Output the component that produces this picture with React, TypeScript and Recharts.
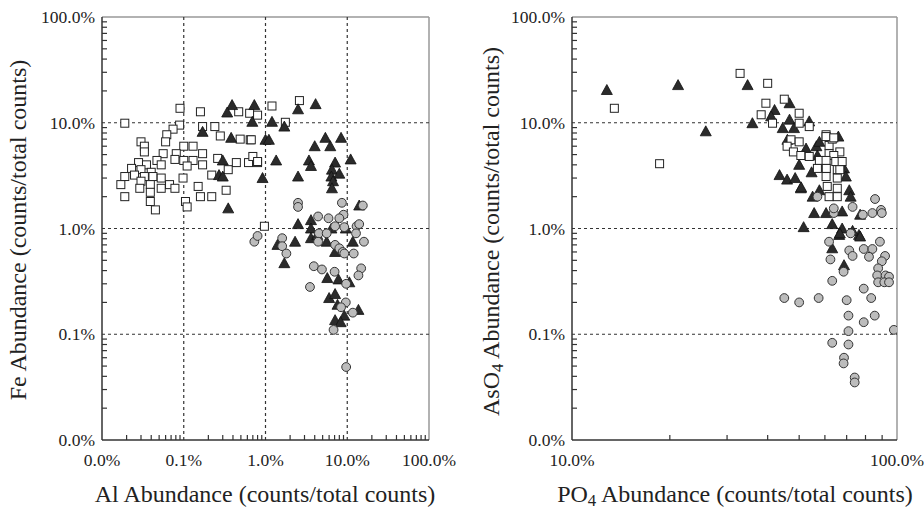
import { ReferenceLine, Scatter, ScatterChart, XAxis, YAxis } from 'recharts'

const FONT = '"Liberation Serif", "DejaVu Serif", serif'

// all values in percent (counts / total counts)
const leftSquares: [number, number][] = [
  [0.09, 13.7], [0.16, 12.7], [0.019, 9.9], [0.089, 9.5], [0.074, 8.7], [0.062, 7.7], [0.06, 6.6],
  [0.03, 6.6], [0.033, 6.0], [0.033, 5.3], [0.056, 5.1], [0.1, 6.0], [0.13, 6.0], [0.17, 5.1],
  [0.081, 5.1], [0.078, 4.5], [0.1, 4.4], [0.13, 4.4], [0.17, 4.0], [0.11, 3.9], [0.047, 4.4],
  [0.053, 4.0], [0.028, 4.2], [0.035, 4.0], [0.023, 3.7], [0.03, 3.6], [0.04, 3.4], [0.019, 3.1],
  [0.025, 3.2], [0.033, 3.1], [0.042, 3.1], [0.053, 3.0], [0.03, 2.8], [0.017, 2.6], [0.039, 2.6],
  [0.053, 2.4], [0.067, 2.6], [0.078, 2.4], [0.098, 3.0], [0.019, 2.0], [0.029, 2.4], [0.039, 2.2],
  [0.039, 1.8], [0.045, 1.5], [0.105, 1.8], [0.11, 1.6], [0.15, 2.5], [0.16, 2.0], [0.22, 2.0],
  [0.33, 2.3], [0.22, 3.2], [0.26, 4.6], [0.35, 3.6], [0.44, 4.2], [0.62, 4.2], [0.8, 4.2],
  [0.17, 9.2], [0.24, 9.2], [0.28, 7.5], [0.49, 7.0], [0.65, 6.9], [0.47, 12.7], [0.64, 12.3],
  [1.2, 14.4], [2.6, 16.2], [0.8, 11.8], [1.75, 10.1], [0.67, 6.9], [0.7, 4.8], [0.8, 4.3], [0.97, 1.05],
]

const leftTriangles: [number, number][] = [
  [0.39, 14.7], [0.34, 12.5], [0.73, 14.7], [0.69, 10.2], [0.17, 8.2], [0.38, 7.2], [0.3, 4.4],
  [0.27, 3.2], [0.3, 3.1], [0.35, 1.55], [0.92, 3.0], [1.0, 6.9], [1.2, 10.2], [1.7, 9.2],
  [2.5, 13.4], [4.1, 15], [1.1, 6.9], [1.35, 4.4], [2.5, 3.1], [4.0, 6.0], [5.4, 7.2], [6.2, 6.0],
  [8.4, 7.2], [3.4, 4.4], [3.6, 3.9], [11, 4.5], [7.1, 4.2], [6.5, 3.6], [8, 3.3], [6.4, 3.1],
  [6.7, 2.8], [6.5, 2.4], [2.5, 1.1], [3.6, 1.2], [14, 1.65], [3.6, 1.0], [3.6, 0.81], [4.3, 0.87],
  [5.6, 0.75], [7.1, 0.6], [11.7, 0.75], [1.4, 0.7], [2.3, 0.75], [1.7, 0.47], [5.7, 0.34],
  [7.8, 0.33], [10.6, 0.31], [6.0, 0.22], [7.1, 0.24], [7.6, 0.19], [9.2, 0.15], [13.7, 0.17],
  [7.1, 0.136], [8.3, 0.13], [6.4, 1.0], [9.6, 1.0],
]

const leftCircles: [number, number][] = [
  [2.5, 1.75], [2.5, 1.6], [8.6, 1.75], [15.5, 1.65], [9.0, 1.35], [4.4, 1.3], [5.9, 1.25], [8, 1.25],
  [7.1, 1.05], [13, 1.05], [0.73, 0.75], [0.8, 0.85], [1.6, 0.81], [1.6, 0.68], [1.8, 0.58],
  [4.5, 0.9], [4.4, 0.75], [5.6, 0.9], [7.1, 0.7], [8, 0.65], [8.8, 0.6], [9.2, 0.58], [12, 0.58],
  [12.8, 0.9], [16, 0.75], [14, 1.1], [3.9, 0.44], [4.9, 0.41], [7.0, 0.39], [14.8, 0.42],
  [13.7, 0.36], [3.5, 0.28], [9.7, 0.3], [9.6, 0.2], [8.4, 0.18], [11.7, 0.16], [6.8, 0.11],
  [9.7, 0.049], [9.2, 1.03],
]

const rightSquares: [number, number][] = [
  [13.5, 13.7], [18.6, 4.1], [32.9, 29.3], [40, 23.6], [39.5, 15.3], [45, 16.7], [50, 12.3],
  [38.2, 11.9], [41.4, 9.9], [50, 9.9], [53.7, 9.2], [47.2, 6.9], [50, 6.6], [45.9, 6.0], [48, 5.3],
  [50.6, 4.9], [53.7, 4.8], [57.7, 4.4], [60.5, 7.7], [61.8, 6.1], [63.2, 7.0], [66.7, 5.3],
  [61.8, 5.1], [63.9, 4.9], [60.5, 4.4], [64.8, 4.3], [67.8, 4.3], [56.9, 3.7], [60.6, 3.7],
  [65.5, 3.6], [60.5, 3.1], [65.5, 3.0], [65.5, 2.4], [61.8, 2.0], [65.5, 2.0], [60.5, 7.4],
  [63.9, 7.2], [61, 2.5], [66.7, 3.6],
]

const rightTriangles: [number, number][] = [
  [12.8, 20.4], [21.2, 22.7], [25.8, 8.3], [34.7, 22.7], [42, 13.2], [46.7, 15.3], [35.9, 9.9],
  [41, 11.5], [44.5, 8.9], [46.7, 10.7], [48.2, 8.9], [53.7, 10.3], [46, 6.9], [52.5, 5.7],
  [56.5, 6.0], [57.7, 6.6], [66, 7.4], [50, 4.0], [54.6, 3.4], [56.9, 4.9], [43.5, 3.2], [45.9, 2.9],
  [48.6, 3.0], [50.6, 2.4], [55, 2.0], [57.7, 2.3], [68.7, 3.7], [69.6, 3.1], [71.3, 2.3], [72, 2.0],
  [55.6, 1.4], [60.5, 1.4], [63.2, 1.1], [67.8, 1.45], [51.6, 1.03], [67.8, 1.0], [66.4, 0.87],
  [76.4, 0.87], [73, 0.95], [50.7, 2.45], [77, 1.35], [66.7, 0.9], [77, 0.84], [63.2, 0.65], [68.7, 0.45],
]

const rightCircles: [number, number][] = [
  [85.6, 1.9], [89.3, 1.5], [84, 1.4], [89.8, 1.4], [78.5, 1.35], [73, 1.6], [63.9, 1.4], [63.9, 1.55],
  [72, 0.9], [61.8, 0.75], [88.6, 0.75], [79, 0.64], [84, 0.64], [91.9, 0.55], [82, 0.54], [71.3, 0.62],
  [73, 0.55], [62.4, 0.51], [89.8, 0.49], [87.5, 0.42], [86.9, 0.36], [92.2, 0.36], [94.5, 0.35],
  [87.5, 0.31], [91.4, 0.31], [94.5, 0.31], [68.5, 0.39], [63.2, 0.32], [79, 0.27], [83.3, 0.22],
  [45, 0.22], [50, 0.2], [57.4, 0.22], [70, 0.21], [70.9, 0.15], [85.4, 0.15], [79, 0.13], [97.8, 0.11],
  [70.9, 0.107], [63.2, 0.083], [70.9, 0.08], [68.7, 0.06], [68.5, 0.053], [74.1, 0.039],
  [74.1, 0.035], [56.9, 2.0],
]

const yDecades = [0.01, 0.1, 1, 10, 100]
const leftXDecades = [0.01, 0.1, 1, 10, 100]
const rightXDecades = [10, 100]
const minorSteps = [2, 3, 4, 5, 6, 7, 8, 9]
const gridValues = [0.1, 1, 10]

const withMinors = (decades: number[]) => {
  const out: number[] = []
  decades.forEach((d, i) => {
    out.push(d)
    if (i < decades.length - 1) minorSteps.forEach((m) => out.push(+(d * m).toPrecision(3)))
  })
  return out
}

const toPts = (arr: [number, number][]) => arr.map(([x, y]) => ({ x, y }))
const isDecade = (v: number) => Math.abs(Math.log10(v) - Math.round(Math.log10(v))) < 1e-6
const fmt = (v: number) => v.toFixed(1) + '%'

const tickText: React.CSSProperties = { fontFamily: FONT, fontSize: 17.5, fill: '#222' }

const YTick = (props: any) => {
  const { x, y, payload } = props
  const v = payload.value
  if (isDecade(v)) {
    return (
      <text x={x - 7} y={y} dy="0.35em" textAnchor="end" style={tickText}>
        {fmt(v)}
      </text>
    )
  }
  return <line x1={x} x2={x + 5} y1={y} y2={y} stroke="#333" strokeWidth={1.2} />
}

const XTick = (props: any) => {
  const { x, y, payload } = props
  const v = payload.value
  if (isDecade(v)) {
    return (
      <text x={x} y={y + 26} textAnchor="middle" style={tickText}>
        {fmt(v)}
      </text>
    )
  }
  return <line x1={x} x2={x} y1={y} y2={y - 5} stroke="#333" strokeWidth={1.2} />
}

const square = (p: any) => (
  <rect x={p.cx - 4} y={p.cy - 4} width={8} height={8} fill="#fff" stroke="#222" strokeWidth={1} />
)
const triangle = (p: any) => (
  <polygon
    points={`${p.cx},${p.cy - 5.5} ${p.cx + 5.5},${p.cy + 4.5} ${p.cx - 5.5},${p.cy + 4.5}`}
    fill="#2b2b2b"
    stroke="#111"
    strokeWidth={0.8}
  />
)
const circle = (p: any) => (
  <circle cx={p.cx} cy={p.cy} r={4.4} fill="#bcbcbc" stroke="#333" strokeWidth={1} />
)

type PanelProps = {
  xDecades: number[]
  squares: [number, number][]
  triangles: [number, number][]
  circles: [number, number][]
  yAxisWidth: number
  rightMargin: number
  vGrid: number[]
  squaresFirst: boolean
}

function Panel({ xDecades, squares, triangles, circles, yAxisWidth, rightMargin, vGrid, squaresFirst }: PanelProps) {
  const xMin = xDecades[0]
  const xMax = xDecades[xDecades.length - 1]
  const sq = <Scatter key="sq" data={toPts(squares)} shape={square} isAnimationActive={false} />
  const tr = <Scatter key="tr" data={toPts(triangles)} shape={triangle} isAnimationActive={false} />
  return (
    <ScatterChart width={462} height={509} margin={{ top: 17, right: rightMargin, bottom: 0, left: 0 }}>
      <XAxis
        type="number"
        dataKey="x"
        scale="log"
        domain={[xMin, xMax]}
        allowDataOverflow
        ticks={withMinors(xDecades)}
        interval={0}
        tickSize={0}
        tickMargin={0}
        tick={XTick}
        tickLine={false}
        height={69}
        axisLine={{ stroke: '#333', strokeWidth: 1.5 }}
      />
      <YAxis
        type="number"
        dataKey="y"
        scale="log"
        domain={[0.01, 100]}
        allowDataOverflow
        ticks={withMinors(yDecades)}
        interval={0}
        tickSize={0}
        tickMargin={0}
        tick={YTick}
        tickLine={false}
        width={yAxisWidth}
        axisLine={{ stroke: '#333', strokeWidth: 1.5 }}
      />
      <ReferenceLine y={100} stroke="#999" strokeWidth={1.5} />
      <ReferenceLine x={xMax} stroke="#999" strokeWidth={1.5} />
      {gridValues.map((v) => (
        <ReferenceLine key={'h' + v} y={v} stroke="#333" strokeWidth={1.2} strokeDasharray="3 3" />
      ))}
      {vGrid.map((v) => (
        <ReferenceLine key={'v' + v} x={v} stroke="#333" strokeWidth={1.2} strokeDasharray="3 3" />
      ))}
      {squaresFirst ? [sq, tr] : [tr, sq]}
      <Scatter data={toPts(circles)} shape={circle} isAnimationActive={false} />
    </ScatterChart>
  )
}

const titleStyle: React.CSSProperties = {
  position: 'absolute',
  fontFamily: FONT,
  fontSize: 24,
  color: '#222',
  textAlign: 'center',
  whiteSpace: 'nowrap',
  width: 460,
  lineHeight: '32px',
}

const sub: React.CSSProperties = { fontSize: '0.7em', position: 'relative', top: '0.25em' }

export default function App() {
  return (
    <div style={{ position: 'absolute', left: 0, top: 0, width: 924, height: 509, background: '#fff' }}>
      <div style={{ position: 'absolute', left: 0, top: 0 }}>
        <Panel
          xDecades={leftXDecades}
          squares={leftSquares}
          triangles={leftTriangles}
          circles={leftCircles}
          yAxisWidth={102}
          rightMargin={33}
          vGrid={gridValues}
          squaresFirst
        />
      </div>
      <div style={{ position: 'absolute', left: 462, top: 0 }}>
        <Panel
          xDecades={rightXDecades}
          squares={rightSquares}
          triangles={rightTriangles}
          circles={rightCircles}
          yAxisWidth={110}
          rightMargin={27}
          vGrid={[]}
          squaresFirst={false}
        />
      </div>
      <div style={{ ...titleStyle, left: 265 - 230, top: 478 }}>Al Abundance (counts/total counts)</div>
      <div style={{ ...titleStyle, left: 735 - 230, top: 478 }}>
        PO<span style={sub}>4</span> Abundance (counts/total counts)
      </div>
      <div style={{ ...titleStyle, left: 18 - 230, top: 230 - 16, transform: 'rotate(-90deg)' }}>
        Fe Abundance (counts/total counts)
      </div>
      <div style={{ ...titleStyle, left: 492 - 230, top: 230 - 16, transform: 'rotate(-90deg)' }}>
        AsO<span style={sub}>4</span> Abundance (counts/total counts)
      </div>
    </div>
  )
}
